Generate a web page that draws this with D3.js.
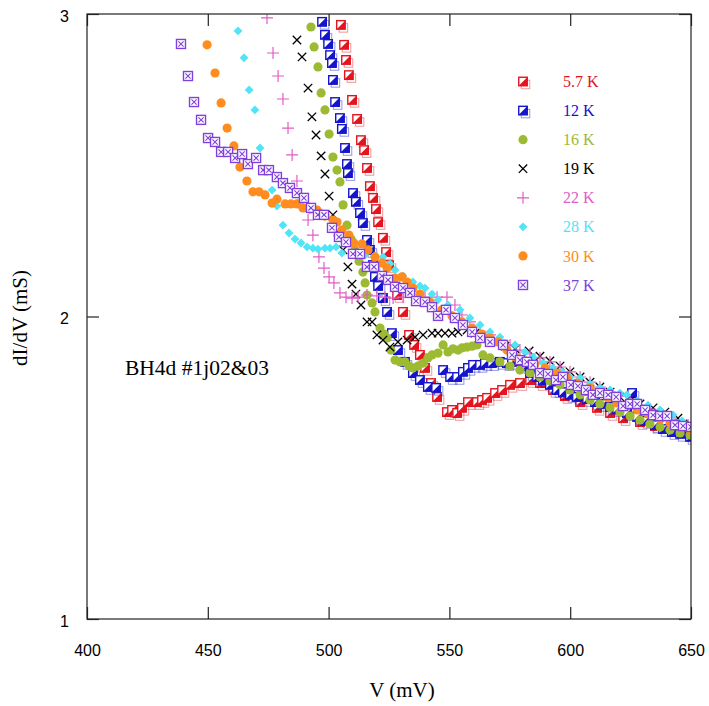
<!DOCTYPE html>
<html><head><meta charset="utf-8">
<script src="https://cdn.jsdelivr.net/npm/d3@7"></script>
<style>body{margin:0;background:#fff}svg{display:block}</style>
</head><body><div id="chart"></div>
<script>
// ---- data (V in mV, dI/dV in mS) ----
const seriesNames = ["5.7 K","12 K","16 K","19 K","22 K","28 K","30 K","37 K"];
const xTicks = [400,450,500,550,600,650];
const yTicks = [1,2,3];

const v57 = [505.1,506.4,507.2,508.4,509.7,511.8,513.4,514.7,515.9,517.1,518.4,519.6,520.5,522.5,523.8,525.0,526.7,528.3,530.8,533.3,535.4,537.8,539.9,542.4,544.9,549.0,551.1,553.2,555.2,557.7,561.4,563.5,565.6,568.9,571.8,575.1,579.2,583.4,587.5,592.9,597.8,604.1,611.1,616.5,621.9,628.9,635.1,641.3,645.5,649.6];
const g57 = [2.964,2.898,2.848,2.798,2.716,2.653,2.583,2.550,2.491,2.431,2.392,2.355,2.312,2.260,2.213,2.170,2.121,2.071,2.015,1.939,1.906,1.873,1.830,1.780,1.734,1.684,1.691,1.681,1.698,1.717,1.717,1.724,1.731,1.747,1.757,1.774,1.780,1.790,1.780,1.757,1.737,1.717,1.698,1.681,1.664,1.651,1.638,1.628,1.622,1.615];

const v12 = [497.3,498.5,499.8,500.6,501.4,501.8,502.7,504.7,505.5,506.8,507.6,508.0,510.1,511.3,513.0,514.2,515.9,517.1,518.4,519.2,520.5,522.5,524.2,526.2,528.7,531.6,534.9,537.8,541.1,544.5,547.4,550.3,553.2,555.6,557.7,559.8,562.7,564.7,567.6,570.9,573.8,575.9,579.2,581.7,583.4,586.3,588.7,591.6,594.5,597.0,599.9,602.8,607.0,610.3,613.6,616.5,619.4,623.5,625.6,627.7,631.0,635.1,638.4,642.1,645.5,649.6];
const g12 = [2.974,2.931,2.901,2.864,2.838,2.782,2.709,2.656,2.620,2.557,2.504,2.474,2.408,2.379,2.342,2.309,2.253,2.220,2.170,2.131,2.101,2.061,2.015,1.945,1.889,1.850,1.813,1.790,1.767,1.764,1.823,1.800,1.800,1.817,1.830,1.840,1.840,1.846,1.846,1.850,1.846,1.850,1.853,1.836,1.813,1.800,1.790,1.774,1.757,1.750,1.741,1.734,1.727,1.717,1.711,1.701,1.694,1.681,1.747,1.668,1.655,1.641,1.628,1.618,1.612,1.602];

const v16 = [492.7,494.0,495.6,496.9,498.5,500.2,501.8,503.5,504.7,506.0,507.6,509.3,510.9,512.6,514.2,515.1,515.9,518.0,519.2,521.3,522.9,524.2,525.8,527.5,529.6,531.6,533.3,534.9,537.0,539.1,541.1,542.8,545.3,547.4,549.4,551.5,553.6,555.2,557.3,559.4,561.4,563.9,566.8,570.9,575.1,579.2,583.4,587.5,591.6,595.8,599.9,604.1,608.2,612.3,616.5,620.6,624.8,628.9,633.0,637.2,641.3,645.5,649.6];
const g16 = [2.957,2.891,2.825,2.739,2.683,2.603,2.527,2.484,2.445,2.369,2.302,2.256,2.220,2.183,2.147,2.111,2.071,2.045,2.015,1.962,1.942,1.929,1.889,1.856,1.850,1.850,1.836,1.830,1.836,1.846,1.863,1.873,1.879,1.906,1.883,1.893,1.889,1.896,1.899,1.902,1.906,1.873,1.863,1.850,1.836,1.823,1.813,1.800,1.787,1.774,1.757,1.741,1.724,1.711,1.698,1.684,1.671,1.658,1.645,1.635,1.625,1.615,1.608];

const v19 = [486.9,489.0,491.5,493.1,494.8,496.9,498.5,500.2,501.8,503.9,506.0,508.0,509.7,511.3,513.4,515.9,518.0,520.0,522.5,525.4,528.7,532.5,535.8,539.1,542.8,545.3,548.2,551.1,553.6,557.3,560.6,564.7,568.9,573.0,577.2,583.0,587.5,591.6,595.8,599.9,604.1,608.2,612.3,616.5,620.6,624.8,628.9,634.3,639.2,644.6,649.6];
const g19 = [2.914,2.858,2.755,2.660,2.600,2.531,2.471,2.398,2.336,2.279,2.220,2.164,2.107,2.074,2.038,1.982,1.982,1.939,1.922,1.899,1.916,1.922,1.932,1.939,1.945,1.945,1.945,1.945,1.949,1.955,1.945,1.929,1.916,1.902,1.893,1.886,1.869,1.853,1.836,1.817,1.800,1.783,1.767,1.750,1.734,1.721,1.711,1.698,1.684,1.664,1.645];

const v22 = [474.5,477.0,479.1,481.1,483.2,484.9,486.9,489.4,491.5,493.5,496.0,498.1,500.2,502.2,504.7,507.2,509.7,512.2,515.9,520.0,523.3,526.7,530.8,534.9,539.9,544.9,549.0,552.3,555.2,558.5,562.7,566.8,570.9,575.1,579.2,583.4,587.5,591.6,595.8,599.9,604.1,608.2,612.3,616.5,620.6,624.8,628.9,633.0,638.0,643.4,648.8];
const g22 = [2.987,2.871,2.795,2.719,2.623,2.534,2.448,2.385,2.319,2.269,2.197,2.160,2.131,2.111,2.078,2.064,2.061,2.064,2.071,2.068,2.064,2.061,2.064,2.064,2.064,2.064,2.064,2.038,2.005,1.982,1.945,1.939,1.922,1.906,1.889,1.876,1.863,1.850,1.833,1.817,1.800,1.783,1.767,1.750,1.737,1.721,1.707,1.694,1.678,1.658,1.641];

const v28 = [462.5,465.0,467.1,469.5,471.6,476.6,478.6,481.1,483.6,486.1,488.6,491.1,493.5,495.6,498.5,500.6,503.1,505.5,510.9,515.1,519.2,522.5,525.4,527.5,530.8,534.9,537.8,539.9,542.8,545.3,549.4,554.4,558.5,562.7,566.8,570.9,577.2,581.3,584.6,588.7,592.9,596.6,599.9,604.1,608.2,612.3,616.5,620.6,623.5,627.7,632.2,637.2,642.6,646.3,649.6];
const g28 = [2.944,2.855,2.749,2.683,2.557,2.418,2.365,2.302,2.276,2.256,2.243,2.230,2.226,2.223,2.226,2.226,2.230,2.210,2.207,2.203,2.200,2.197,2.174,2.154,2.134,2.114,2.101,2.094,2.074,2.055,2.038,2.022,1.995,1.972,1.949,1.932,1.906,1.883,1.866,1.846,1.830,1.817,1.800,1.797,1.777,1.764,1.757,1.747,1.741,1.721,1.707,1.691,1.674,1.655,1.635];

const v30 = [449.7,453.0,455.5,458.0,460.8,463.3,466.2,468.7,471.2,473.7,476.6,478.6,482.0,484.4,486.9,489.4,492.3,495.2,498.5,501.8,503.5,505.5,508.4,510.5,513.8,516.3,519.2,522.1,524.2,527.5,530.4,532.5,534.9,537.8,542.0,546.9,551.1,555.2,559.4,563.5,566.8,570.1,573.8,577.2,581.3,585.4,589.6,594.5,598.7,602.8,608.2,612.3,615.7,619.4,623.5,627.7,632.2,637.2,641.3,645.5,649.6];
const g30 = [2.898,2.805,2.706,2.623,2.564,2.494,2.448,2.412,2.412,2.402,2.375,2.388,2.372,2.372,2.372,2.359,2.355,2.352,2.332,2.319,2.312,2.286,2.269,2.243,2.240,2.220,2.197,2.177,2.160,2.127,2.131,2.114,2.094,2.074,2.048,2.022,2.002,1.982,1.962,1.942,1.929,1.916,1.889,1.866,1.853,1.843,1.830,1.813,1.797,1.780,1.764,1.747,1.731,1.714,1.704,1.691,1.678,1.661,1.648,1.635,1.625];

const v37 = [438.9,441.8,444.3,447.2,450.1,453.0,455.5,458.4,461.3,464.2,466.6,470.0,472.9,475.3,478.6,481.1,484.0,486.9,489.8,492.7,495.6,498.1,501.4,504.3,507.2,510.1,513.0,515.9,518.8,522.1,524.6,527.5,530.8,533.7,536.2,539.9,542.8,545.3,548.6,552.3,555.6,559.4,562.7,566.8,572.2,575.9,579.2,582.1,584.6,587.5,590.8,594.1,597.0,600.3,603.2,606.5,609.4,612.3,615.7,619.0,621.9,624.8,627.7,631.0,634.3,637.2,640.1,643.4,646.7,650.0];
const g37 = [2.901,2.795,2.709,2.650,2.590,2.577,2.544,2.544,2.524,2.537,2.504,2.524,2.484,2.484,2.461,2.441,2.425,2.408,2.392,2.359,2.336,2.336,2.293,2.263,2.246,2.207,2.207,2.164,2.164,2.134,2.121,2.098,2.094,2.078,2.051,2.048,2.031,2.002,2.022,1.995,1.972,1.949,1.929,1.916,1.906,1.873,1.856,1.850,1.840,1.813,1.810,1.790,1.800,1.774,1.770,1.757,1.741,1.747,1.741,1.734,1.704,1.711,1.711,1.691,1.674,1.671,1.671,1.641,1.638,1.635];

const voltages = [v57,v12,v16,v19,v22,v28,v30,v37];
const conductances = [g57,g12,g16,g19,g22,g28,g30,g37];

// ---- style ----
const colors = ["#e3141e","#1414cc","#9cba32","#000000","#e05ec4","#4fe4f6","#ff8c1e","#8040dc"];
const shapes = ["halfsq","halfsq","circle","cross","plus","diamond","circle","xsq"];

const W = 709, H = 706;
const svg = d3.select("#chart").append("svg").attr("width", W).attr("height", H);
const x = d3.scaleLinear().domain([400,650]).range([87,691]);
const y = d3.scaleLinear().domain([1,3]).range([619,14]);

function drawMarker(g, shape, color) {
  if (shape === "halfsq") {
    const s = 8.5;
    g.append("rect").attr("x",-s/2+2.5).attr("y",-s/2+3).attr("width",s).attr("height",s)
      .attr("fill","none").attr("stroke",color).attr("stroke-width",1).attr("opacity",0.45);
    g.append("rect").attr("x",-s/2).attr("y",-s/2).attr("width",s).attr("height",s)
      .attr("fill","#fff").attr("stroke",color).attr("stroke-width",1.4);
    g.append("path").attr("d",`M${s/2},${-s/2}L${s/2},${s/2}L${-s/2},${s/2}Z`).attr("fill",color);
  } else if (shape === "circle") {
    g.append("circle").attr("r",4.6).attr("fill",color);
  } else if (shape === "cross") {
    const a = 4.2;
    g.append("path").attr("d",`M${-a},${-a}L${a},${a}M${a},${-a}L${-a},${a}`)
      .attr("stroke",color).attr("stroke-width",1.3).attr("fill","none");
  } else if (shape === "plus") {
    const a = 6;
    g.append("path").attr("d",`M${-a},0L${a},0M0,${-a}L0,${a}`)
      .attr("stroke",color).attr("stroke-width",1.2).attr("fill","none");
  } else if (shape === "diamond") {
    const a = 4.4;
    g.append("path").attr("d",`M0,${-a}L${a},0L0,${a}L${-a},0Z`).attr("fill",color);
  } else if (shape === "xsq") {
    const s = 9;
    g.append("rect").attr("x",-s/2).attr("y",-s/2).attr("width",s).attr("height",s)
      .attr("fill","#fff").attr("stroke",color).attr("stroke-width",1.4);
    const a = 2.6;
    g.append("path").attr("d",`M${-a},${-a}L${a},${a}M${a},${-a}L${-a},${a}`)
      .attr("stroke",color).attr("stroke-width",1.1);
  }
}

const clip = svg.append("clipPath").attr("id","clip").append("rect")
  .attr("x",87).attr("y",14).attr("width",604).attr("height",605);
const plot = svg.append("g").attr("clip-path","url(#clip)");

seriesNames.forEach((name, i) => {
  const pts = voltages[i].map((v, j) => [v, conductances[i][j]]);
  const sg = plot.append("g");
  pts.forEach(p => {
    const m = sg.append("g").attr("transform",`translate(${x(p[0])},${y(p[1])})`);
    drawMarker(m, shapes[i], colors[i]);
  });
});

// frame and axes
const axisColor = "#222";
svg.append("rect").attr("x",87).attr("y",14).attr("width",604).attr("height",605)
  .attr("fill","none").attr("stroke",axisColor).attr("stroke-width",1.2);

const gx = svg.append("g").attr("transform","translate(0,619)")
  .call(d3.axisBottom(x).tickValues(xTicks).tickSizeInner(-12).tickSizeOuter(0).tickPadding(26).tickFormat(d3.format("d")));
const gxt = svg.append("g").attr("transform","translate(0,14)")
  .call(d3.axisTop(x).tickValues(xTicks).tickSizeInner(-12).tickSizeOuter(0).tickFormat(""));
const gy = svg.append("g").attr("transform","translate(87,0)")
  .call(d3.axisLeft(y).tickValues(yTicks).tickSizeInner(-12).tickSizeOuter(0).tickPadding(18).tickFormat(d3.format("d")));
const gyr = svg.append("g").attr("transform","translate(691,0)")
  .call(d3.axisRight(y).tickValues(yTicks).tickSizeInner(-12).tickSizeOuter(0).tickFormat(""));
[gx,gxt,gy,gyr].forEach(g => {
  g.select(".domain").remove();
  g.selectAll(".tick line").attr("stroke",axisColor).attr("stroke-width",1.2);
  g.selectAll("text").attr("font-family","'Liberation Sans', Arial, sans-serif").attr("font-size",16).attr("fill","#000");
});
gy.selectAll(".tick text").attr("dy","0.45em");

// axis titles
const serif = "'Liberation Serif', 'Times New Roman', serif";
svg.append("text").attr("x",402).attr("y",697).attr("text-anchor","middle")
  .attr("font-family",serif).attr("font-size",21).text("V (mV)");
svg.append("text").attr("transform","translate(27,318) rotate(-90)").attr("text-anchor","middle")
  .attr("font-family",serif).attr("font-size",21).text("dI/dV (mS)");
svg.append("text").attr("x",125).attr("y",375)
  .attr("font-family",serif).attr("font-size",21.5).text("BH4d #1j02&03");

// legend
const leg = svg.append("g");
seriesNames.forEach((name, i) => {
  const ly = 81.5 + i * 29.07;
  const m = leg.append("g").attr("transform",`translate(523,${ly})`);
  drawMarker(m, shapes[i], colors[i]);
  leg.append("text").attr("x",563).attr("y",ly).attr("dy","0.35em")
    .attr("font-family",serif).attr("font-size",16)
    .attr("fill",colors[i]).text(name);
});
</script></body></html>
